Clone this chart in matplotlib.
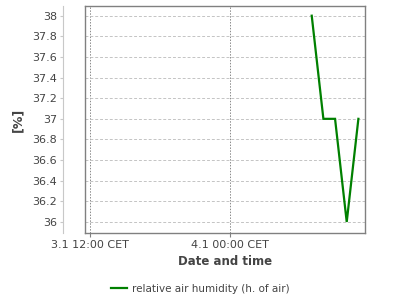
import datetime as dt

import matplotlib
matplotlib.use("Agg")
import matplotlib.pyplot as plt
import matplotlib.dates as mdates
from matplotlib.ticker import FuncFormatter

# -------------------------
# Data
# -------------------------

times = [
    dt.datetime(2024, 1, 4, 7, 0),
    dt.datetime(2024, 1, 4, 8, 0),
    dt.datetime(2024, 1, 4, 9, 0),
    dt.datetime(2024, 1, 4, 10, 0),
    dt.datetime(2024, 1, 4, 11, 0),
]
humidity = [38, 37, 37, 36, 37]

x_start = dt.datetime(2024, 1, 3, 11, 34)
x_end = dt.datetime(2024, 1, 4, 11, 34)
y_ticks = [36, 36.2, 36.4, 36.6, 36.8, 37, 37.2, 37.4, 37.6, 37.8, 38]

series_label = "relative air humidity (h. of air)"


def fmt_date(val, pos=None):
    d = mdates.num2date(val)
    return f"{d.day}.{d.month} {d:%H:%M} CET"


def plot_chart():
    plt.rcParams["font.family"] = ["DejaVu Sans"]
    text_col = "#444444"
    frame_col = "#808080"

    fig = plt.figure(figsize=(4, 3), dpi=100)
    ax = fig.add_axes([85 / 400, 1 - 233 / 300, 280 / 400, 227 / 300])

    ax.plot(times, humidity, color="#008000", lw=1.6, label=series_label,
            solid_joinstyle="miter")

    ax.set_xlim(x_start, x_end)
    ax.set_ylim(35.893, 38.094)
    ax.set_yticks(y_ticks)
    ax.yaxis.set_major_formatter(FuncFormatter(lambda v, p: f"{v:g}"))

    ax.xaxis.set_major_locator(mdates.HourLocator(byhour=[0, 12]))
    ax.xaxis.set_major_formatter(FuncFormatter(fmt_date))

    # grids
    ax.grid(axis="y", color="#c4c4c4", lw=0.7, ls=(0, (3, 2)))
    ax.grid(axis="x", color="#8a8a8a", lw=0.7, ls=(0, (1.5, 1.5)))

    # frame
    for side in ("top", "right", "bottom"):
        ax.spines[side].set_color(frame_col)
        ax.spines[side].set_linewidth(1.0)
    ax.spines["left"].set_position(("outward", 16))
    ax.spines["left"].set_color("#c8c8c8")
    ax.spines["left"].set_linewidth(0.8)
    ax.plot([0, 0], [0, 1], transform=ax.transAxes, color=frame_col,
            lw=1.0, clip_on=False)

    ax.tick_params(axis="y", length=2, width=0.8, color="#c8c8c8",
                   labelcolor=text_col, labelsize=8, pad=2)
    ax.tick_params(axis="x", length=3, width=0.8, color=frame_col,
                   labelcolor=text_col, labelsize=8, pad=2)

    ax.set_xlabel("Date and time", fontsize=8.5, fontweight="bold",
                  color=text_col)
    ax.xaxis.set_label_coords(0.5, -0.095)
    ax.set_ylabel("[%]", fontsize=9, fontweight="bold", color=text_col)
    ax.yaxis.set_label_coords(-0.215, 0.5)

    fig.legend(loc="center", bbox_to_anchor=(0.5, 1 - 289 / 300),
               frameon=False, fontsize=7.5, handlelength=1.6,
               handletextpad=0.4, labelcolor=text_col)

    fig.savefig("out.png", dpi=100)


def main():
    plot_chart()


if __name__ == "__main__":
    main()
